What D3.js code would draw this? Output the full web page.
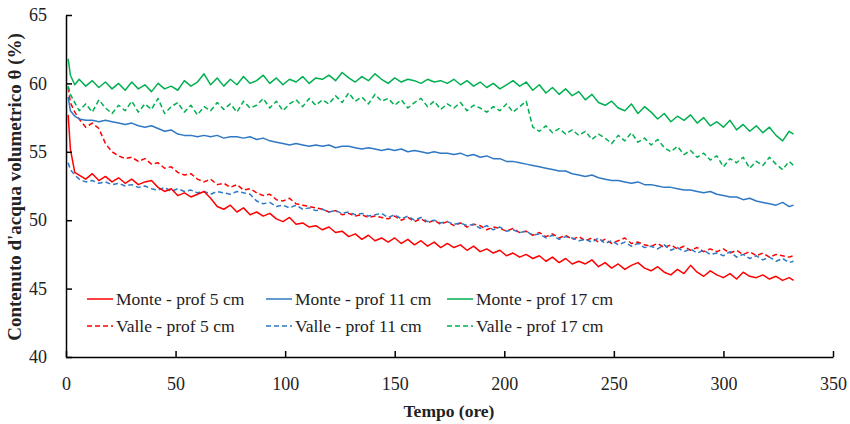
<!DOCTYPE html>
<html>
<head>
<meta charset="utf-8">
<script src="https://cdn.jsdelivr.net/npm/d3@7"></script>
<style>
  body { margin: 0; background: #fff; }
  svg text { font-family: "Liberation Serif", "DejaVu Serif", serif; fill: #222; }
</style>
</head>
<body>
<svg id="chart"></svg>
<script>
// Ore di misura
var hours = [1, 2, 4, 6, 9, 12, 15, 18, 21, 24,
  27, 30, 33, 36, 39, 42, 45, 48, 51, 54,
  57, 60, 63, 66, 69, 72, 75, 78, 81, 84,
  87, 90, 93, 96, 99, 102, 105, 108, 111, 114,
  117, 120, 123, 126, 129, 132, 135, 138, 141, 144,
  147, 150, 153, 156, 159, 162, 165, 168, 171, 174,
  177, 180, 183, 186, 189, 192, 195, 198, 201, 204,
  207, 210, 213, 216, 219, 222, 225, 228, 231, 234,
  237, 240, 243, 246, 249, 252, 255, 258, 261, 264,
  267, 270, 273, 276, 279, 282, 285, 288, 291, 294,
  297, 300, 303, 306, 309, 312, 315, 318, 321, 324,
  327, 330, 332];

// Contenuto d'acqua (%) - Monte
var monte5 = [57.7, 55.2, 53.5, 53.3, 53.0, 53.4, 52.9, 53.2, 52.8, 53.1,
  52.7, 53.0, 52.6, 52.8, 52.9, 52.4, 52.1, 52.3, 51.8, 52.0,
  51.7, 51.9, 52.1, 51.6, 51.0, 50.8, 51.1, 50.6, 50.9, 50.4,
  50.6, 50.3, 50.5, 50.1, 49.9, 50.2, 49.7, 49.8, 49.5, 49.6,
  49.3, 49.5, 49.1, 49.2, 48.8, 49.0, 48.6, 48.9, 48.5, 48.7,
  48.4, 48.7, 48.3, 48.6, 48.2, 48.5, 48.1, 48.4, 48.0, 48.3,
  48.0, 48.2, 47.8, 48.1, 47.7, 47.9, 47.6, 47.8, 47.4, 47.6,
  47.3, 47.5, 47.2, 47.4, 47.0, 47.3, 46.9, 47.2, 46.8, 47.0,
  46.8, 47.1, 46.6, 46.9, 46.5, 46.8, 46.4, 46.7, 46.9, 46.5,
  46.3, 46.6, 46.2, 46.0, 46.4, 46.1, 46.7, 46.2, 45.9, 46.3,
  46.0, 45.8, 46.1, 45.7, 46.2, 45.9, 45.8, 46.0, 45.7, 45.9,
  45.6, 45.8, 45.6];
var monte11 = [59.0, 58.0, 57.6, 57.4, 57.3, 57.3, 57.2, 57.3, 57.2, 57.1,
  57.0, 57.1, 56.9, 56.8, 56.9, 56.7, 56.5, 56.6, 56.3, 56.2,
  56.2, 56.1, 56.2, 56.1, 56.2, 56.0, 56.1, 56.1, 56.0, 56.1,
  55.9, 56.0, 55.8, 55.7, 55.6, 55.5, 55.6, 55.5, 55.4, 55.5,
  55.4, 55.5, 55.3, 55.4, 55.4, 55.3, 55.2, 55.3, 55.2, 55.1,
  55.2, 55.1, 55.2, 55.0, 55.1, 55.0, 54.9, 55.0, 54.9, 54.9,
  54.8, 54.9, 54.7, 54.8, 54.6, 54.7, 54.5, 54.5, 54.3, 54.3,
  54.2, 54.1, 54.0, 53.9, 53.8, 53.7, 53.6, 53.6, 53.4, 53.3,
  53.2, 53.3, 53.1, 53.0, 52.9, 52.9, 52.8, 52.7, 52.8, 52.6,
  52.6, 52.5, 52.4, 52.4, 52.3, 52.2, 52.2, 52.1, 52.0, 52.1,
  51.9, 51.8, 51.7, 51.7, 51.5, 51.6, 51.4, 51.3, 51.2, 51.1,
  51.3, 51.0, 51.1];
var monte17 = [61.8, 60.6, 59.9, 60.3, 59.8, 60.2, 59.7, 60.1, 59.6, 60.0,
  59.5, 60.1, 59.6, 59.9, 59.4, 60.0, 59.6, 59.8, 59.5, 60.2,
  59.8, 60.1, 60.7, 59.9, 60.4, 59.8, 60.3, 59.9, 60.5, 60.0,
  60.2, 60.6, 60.0, 60.4, 59.9, 60.3, 60.1, 60.5, 60.0, 60.4,
  60.3, 60.6, 60.2, 60.8, 60.4, 60.1, 60.5, 60.2, 60.7, 60.3,
  60.0, 60.4, 60.1, 60.3, 60.2, 60.0, 60.3, 60.1, 60.2, 60.0,
  60.3, 59.9, 60.2, 59.8, 60.1, 59.7, 60.0, 59.6, 59.9, 60.2,
  59.8, 60.1, 59.5, 59.9, 59.3, 59.7, 59.2, 59.6, 59.1, 59.4,
  58.8, 59.2, 58.6, 58.4, 58.7, 58.2, 58.0, 58.5, 57.8, 58.3,
  57.9, 57.4, 57.8, 57.2, 57.6, 57.3, 57.7, 57.1, 57.5, 56.9,
  57.2, 56.8, 57.3, 56.6, 57.0, 56.5, 56.9, 56.4, 56.8, 56.2,
  55.8, 56.5, 56.3];

// Contenuto d'acqua (%) - Valle
var valle5 = [59.7, 58.6, 57.9, 57.4, 56.8, 57.1, 56.7, 55.6, 55.0, 54.7,
  54.5, 54.6, 54.3, 54.5, 54.1, 54.2, 53.8, 53.9, 53.5, 53.3,
  53.4, 53.0, 52.8, 53.0, 52.6, 52.7, 52.4, 52.6, 52.2, 52.3,
  52.0, 51.8, 51.9, 51.5, 51.4, 51.6, 51.2, 51.1, 51.0, 50.9,
  50.8, 50.6, 50.7, 50.4, 50.5, 50.3, 50.4, 50.2, 50.3, 50.2,
  50.1, 50.3, 50.0, 50.2, 49.9, 50.1, 49.8, 50.0, 49.7, 49.9,
  49.6, 49.8, 49.5, 49.7, 49.6, 49.3, 49.5, 49.4, 49.2, 49.4,
  49.1, 49.2, 48.9, 49.1, 48.8, 49.0, 48.7, 48.9, 48.6, 48.8,
  48.5, 48.7, 48.4, 48.6, 48.3, 48.5, 48.7, 48.3, 48.4, 48.2,
  48.1, 48.3, 48.0, 48.2, 47.9, 48.1, 47.8, 48.0, 47.7, 47.9,
  47.7, 47.9, 47.6, 47.8, 47.5, 47.7, 47.4, 47.6, 47.3, 47.5,
  47.4, 47.3, 47.4];
var valle11 = [54.2, 53.7, 53.3, 53.0, 52.8, 52.9, 52.7, 52.8, 52.6, 52.7,
  52.5, 52.6, 52.4, 52.5, 52.3, 52.2, 52.4, 52.1, 52.3, 52.1,
  52.2, 52.0, 52.1, 51.9, 52.1, 52.0, 51.9, 52.1, 52.0, 51.9,
  51.4, 51.2, 51.3, 51.0, 51.1, 50.9, 51.1, 50.8, 50.9, 50.7,
  50.8, 50.6, 50.7, 50.5, 50.6, 50.4, 50.5, 50.3, 50.4, 50.5,
  50.2, 50.4, 50.1, 50.3, 50.0, 50.2, 49.9, 50.0, 49.8, 49.9,
  49.7, 49.8, 49.6, 49.7, 49.4, 49.6, 49.3, 49.5, 49.2, 49.3,
  49.1, 49.2, 48.9, 49.0, 48.7, 48.9, 48.6, 48.8, 48.7, 48.5,
  48.6, 48.4, 48.7, 48.3, 48.5, 48.2, 48.4, 48.1, 48.3, 48.0,
  48.1, 47.9, 48.2, 47.8, 48.0, 47.7, 47.9, 47.6, 47.8, 47.5,
  47.6, 47.4, 47.7, 47.3, 47.5, 47.2, 47.4, 47.1, 47.3, 47.0,
  47.2, 46.9, 47.0];
var valle17 = [59.8, 59.2, 58.6, 58.0, 58.5, 57.9, 58.8, 58.2, 57.8, 58.4,
  58.0, 58.7, 57.9, 58.5, 58.1, 58.9, 57.8, 58.3, 58.6, 57.9,
  58.4, 57.7, 58.3, 58.0, 58.6, 58.1, 58.5, 57.9, 58.7, 58.2,
  58.4, 58.9, 58.2, 58.7, 58.0, 58.5, 58.8, 58.3, 58.9, 58.4,
  58.8, 58.5, 59.1, 58.6, 59.3, 58.7, 59.0, 58.5, 59.2, 58.7,
  58.9, 58.4, 58.8, 58.2, 58.6, 58.9, 58.3, 58.7, 58.1, 58.5,
  58.2, 58.6, 58.0, 58.4, 58.2, 57.9, 58.3, 58.0, 58.5, 57.9,
  58.3, 58.7, 56.8, 56.5, 56.9, 56.4, 56.7, 56.3, 56.6, 56.2,
  56.5, 55.9, 56.3, 56.0, 55.6, 56.2, 55.8, 56.4, 55.7, 56.0,
  55.5, 55.9, 55.3, 55.0, 55.4, 54.8, 55.1, 54.6, 54.9, 54.4,
  54.7, 53.9, 54.5, 54.2, 54.6, 53.8, 54.3, 54.0, 54.6, 54.1,
  53.7, 54.3, 54.0];

var xTicks = [0, 50, 100, 150, 200, 250, 300, 350];
var yTicks = [40, 45, 50, 55, 60, 65];

var series = [
  { name: "Monte - prof 5 cm", values: monte5, colour: "#ff0000", dash: null },
  { name: "Monte - prof 11 cm", values: monte11, colour: "#2f78c4", dash: null },
  { name: "Monte - prof 17 cm", values: monte17, colour: "#00b050", dash: null },
  { name: "Valle - prof 5 cm", values: valle5, colour: "#ff0000", dash: "5,3" },
  { name: "Valle - prof 11 cm", values: valle11, colour: "#2f78c4", dash: "5,3" },
  { name: "Valle - prof 17 cm", values: valle17, colour: "#00b050", dash: "5,3" }
];

var width = 850, height = 424;
var margin = { top: 15, right: 17, bottom: 67, left: 66 };

var svg = d3.select("#chart")
  .attr("width", width)
  .attr("height", height);

var x = d3.scaleLinear().domain([0, 350]).range([margin.left, width - margin.right]);
var y = d3.scaleLinear().domain([40, 65]).range([height - margin.bottom, margin.top]);

var line = d3.line()
  .x(function(d) { return x(d[0]); })
  .y(function(d) { return y(d[1]); });

// Series lines (dashed drawn first, solid on top)
var order = [3, 4, 5, 0, 1, 2];
order.forEach(function(i) {
  var s = series[i];
  svg.append("path")
    .datum(hours.map(function(h, k) { return [h, s.values[k]]; }))
    .attr("fill", "none")
    .attr("stroke", s.colour)
    .attr("stroke-width", 1.5)
    .attr("stroke-dasharray", s.dash)
    .attr("stroke-linejoin", "round")
    .attr("d", line);
});

// Axes
var xAxis = svg.append("g")
  .attr("transform", "translate(0," + y(40) + ")")
  .call(d3.axisBottom(x).tickValues(xTicks).tickSizeInner(-6).tickSizeOuter(0).tickPadding(20));
var yAxis = svg.append("g")
  .attr("transform", "translate(" + x(0) + ",0)")
  .call(d3.axisLeft(y).tickValues(yTicks).tickSizeInner(-6).tickSizeOuter(0).tickPadding(19));

[xAxis, yAxis].forEach(function(a) {
  a.select(".domain").attr("stroke", "#000").attr("stroke-width", 1.5);
  a.selectAll(".tick line").attr("stroke", "#000").attr("stroke-width", 1.5);
  a.selectAll(".tick text")
    .style("font-family", "'Liberation Serif', serif")
    .style("font-size", "18px")
    .attr("fill", "#222");
});

// Axis titles
svg.append("text")
  .attr("x", 449)
  .attr("y", 417)
  .attr("text-anchor", "middle")
  .style("font-size", "17.5px")
  .style("font-weight", "bold")
  .text("Tempo (ore)");

svg.append("text")
  .attr("transform", "translate(21," + 187 + ") rotate(-90)")
  .attr("text-anchor", "middle")
  .style("font-size", "19px")
  .style("font-weight", "bold")
  .text("Contenuto d'acqua volumetrico θ (%)");

// Legend
var legendX = [87, 266, 447];
var legendY = [299, 326];
series.forEach(function(s, i) {
  var col = i % 3, row = Math.floor(i / 3);
  var g = svg.append("g")
    .attr("transform", "translate(" + legendX[col] + "," + legendY[row] + ")");
  g.append("line")
    .attr("x1", 0).attr("x2", 26)
    .attr("stroke", s.colour)
    .attr("stroke-width", 1.5)
    .attr("stroke-dasharray", s.dash);
  g.append("text")
    .attr("x", 29)
    .attr("dy", "0.33em")
    .style("font-size", "17.5px")
    .text(s.name);
});
</script>
</body>
</html>
